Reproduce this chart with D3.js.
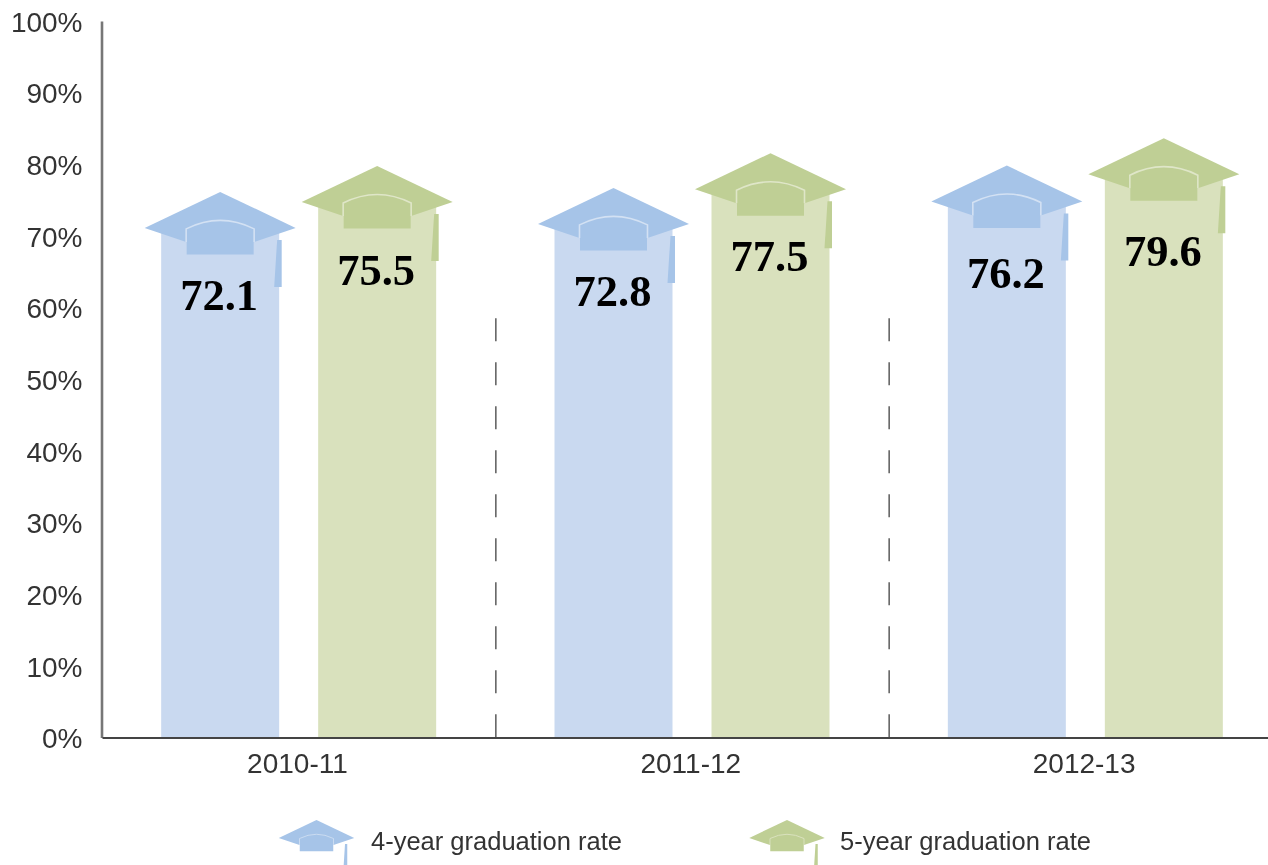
<!DOCTYPE html>
<html><head><meta charset="utf-8">
<script src="https://cdn.jsdelivr.net/npm/d3@7"></script>
<style>html,body{margin:0;padding:0;background:#fff}svg{display:block;filter:blur(0.6px)}</style>
</head><body><svg id="c" width="1268" height="865"></svg>
<script>
const categories = ["2010-11","2011-12","2012-13"];
const fourYear = [72.1,72.8,76.2];
const fiveYear = [75.5,77.5,79.6];
const seriesNames = ["4-year graduation rate","5-year graduation rate"];
const yTicks = [0,10,20,30,40,50,60,70,80,90,100];

const palette = [{bar:"#c9d9f0",hat:"#a6c4e8",line:"#d3e1f3"},{bar:"#d9e1bd",hat:"#bfcf95",line:"#dfe6c8"}];
const ink = "#333";
const svg = d3.select("#c");
const y = d3.scaleLinear().domain([0,100]).range([737.5,21]);
const x0 = d3.scaleBand().domain(categories).range([102,1282]);
const x1 = d3.scalePoint().domain([0,1]).range([-78.5,78.5]);
const cx = (c,s)=>x0(c)+x0.bandwidth()/2+x1(s);
const barW = 118;

// per-mark fine placement of hats and value labels, in px
const hatDy = [[0,-1.5],[1,0],[3,0]];
const labelDy = [[74,73],[75,74],[81,83.5]];
const barTopInset = 3;

function hat(g, c, s, tasselTop, tasselBottom){
  g.append("path").attr("fill",c.hat)
    .attr("d",`M0,0 L${75.5*s},${36*s} L${34*s},${50*s} L${-34*s},${50*s} L${-75.5*s},${36*s} Z`);
  g.append("path").attr("fill",c.hat)
    .attr("d",`M${-33.5*s},${36*s} Q0,${20*s} ${33.5*s},${36*s} L${33.5*s},${62.5*s} L${-33.5*s},${62.5*s} Z`);
  g.append("path").attr("fill","none").attr("stroke",c.line).attr("stroke-width",1.6*s)
    .attr("d",`M${-34*s},${50*s} L${-34*s},${37*s} Q0,${20*s} ${34*s},${37*s} L${34*s},${50*s}`);
  g.append("path").attr("fill",c.hat)
    .attr("d",`M${57*s},${tasselTop*s} L${61.5*s},${tasselTop*s} L${61.5*s},${tasselBottom*s} L${54*s},${tasselBottom*s} Z`);
}

// axes
const yAxis = d3.axisLeft(y).tickValues(yTicks).tickSize(0).tickPadding(19).tickFormat(d=>d+"%");
const gy = svg.append("g").attr("transform","translate(101.5,0)").call(yAxis);
gy.selectAll("text").attr("font-family","Liberation Sans").attr("font-size",28).attr("fill",ink)
  .attr("transform","translate(0,1.2)");
gy.select(".domain").attr("stroke","#777").attr("stroke-width",2.6);

// separators
categories.slice(1).forEach(c=>{
  svg.append("line").attr("x1",x0(c)+0.5).attr("x2",x0(c)+0.5).attr("y1",y(58.5)).attr("y2",y(0))
    .attr("stroke","#666").attr("stroke-width",1.6).attr("stroke-dasharray","23 21");
});

// bars & hats
[fourYear,fiveYear].forEach((vals,s)=>{
  const g = svg.append("g");
  g.selectAll("rect").data(vals).join("rect")
    .attr("x",(d,i)=>cx(categories[i],s)-barW/2).attr("width",barW)
    .attr("y",d=>y(d)+barTopInset).attr("height",d=>y(0)-y(d)-barTopInset).attr("fill",palette[s].bar);
  vals.forEach((v,i)=>{
    const h = svg.append("g").attr("transform",`translate(${cx(categories[i],s)},${y(v)-29+hatDy[i][s]})`);
    hat(h,palette[s],1,48,95);
  });
  vals.forEach((v,i)=>{
    svg.append("text").attr("x",cx(categories[i],s)-1).attr("y",y(v)+labelDy[i][s]+15)
      .attr("text-anchor","middle").attr("font-family","Liberation Serif").attr("font-weight","bold")
      .attr("font-size",44.5).attr("fill","#000").text(v.toFixed(1));
  });
});

// x axis
const xAxis = d3.axisBottom(x0).tickSize(0).tickPadding(16);
const gx = svg.append("g").attr("transform","translate(0,737.5)").call(xAxis);
gx.selectAll("text").attr("font-family","Liberation Sans").attr("font-size",28).attr("fill",ink)
  .attr("transform","translate(-1.2,0)");
gx.select(".domain").attr("stroke","#444").attr("stroke-width",2);

// legend
const legendHat=[316.5,787], legendText=[371,840];
seriesNames.forEach((n,s)=>{
  const h = svg.append("g").attr("transform",`translate(${legendHat[s]},820)`);
  hat(h,palette[s],0.5,48,95);
  svg.append("text").attr("x",legendText[s]).attr("y",850).attr("font-family","Liberation Sans")
    .attr("font-size",25.5).attr("fill",ink).text(n);
});
</script></body></html>
